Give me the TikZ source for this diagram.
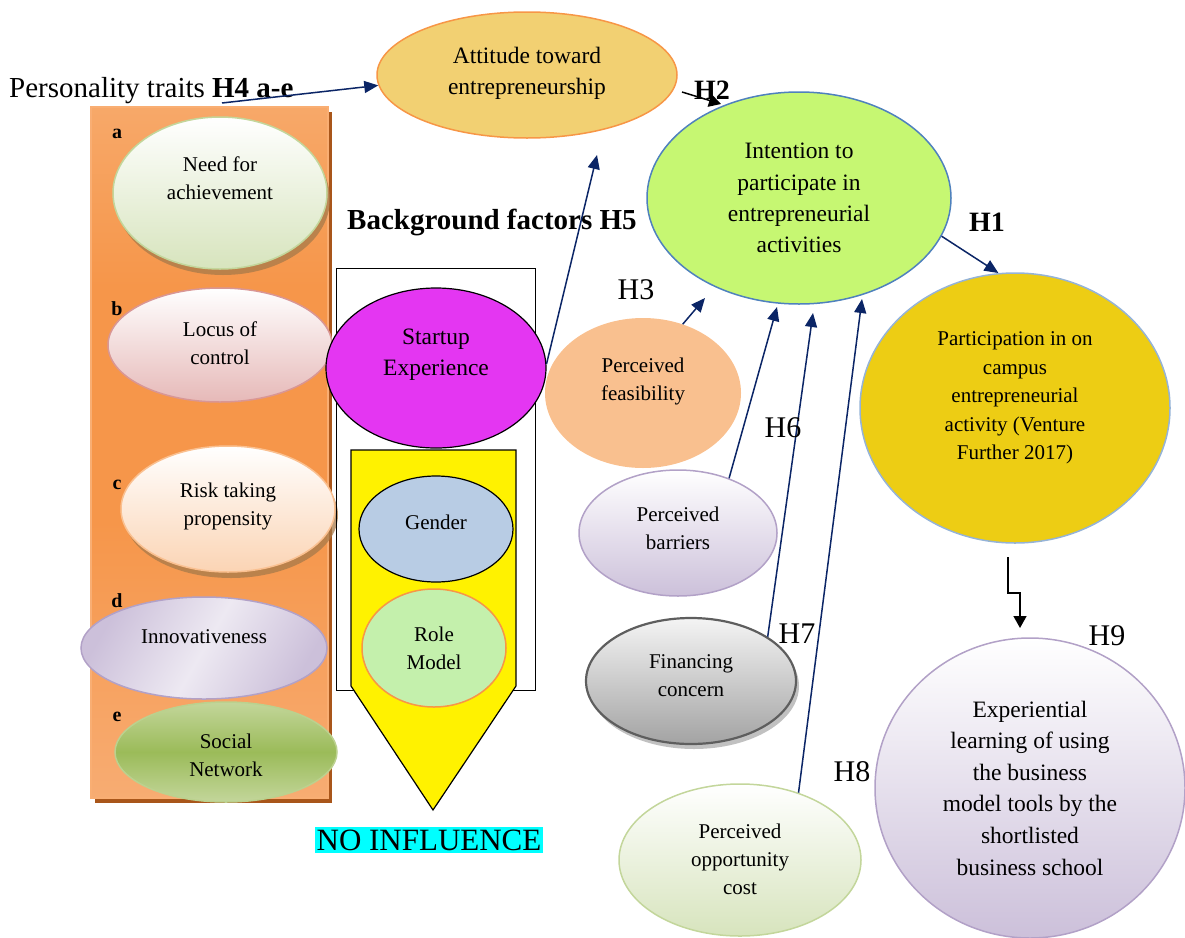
\documentclass[tikz,border=0pt]{standalone}
\usepackage{fontspec}
\setmainfont{Liberation Serif}
\usetikzlibrary{arrows.meta,shapes.geometric,shadows,calc}

\definecolor{navy}{HTML}{0B2566}
\definecolor{orTop}{HTML}{F8C498}
\definecolor{orMid}{HTML}{F6964A}
\definecolor{orBot}{HTML}{F8C097}
\definecolor{orEdge}{HTML}{F9AE73}
\definecolor{boxShade}{HTML}{A9561A}
\definecolor{attFill}{HTML}{F2D072}
\definecolor{orangeLine}{HTML}{F79646}
\definecolor{limeFill}{HTML}{C6F772}
\definecolor{blueLine}{HTML}{4F81BD}
\definecolor{goldFill}{HTML}{EDCD14}
\definecolor{paleBlue}{HTML}{95B3D7}
\definecolor{lilac}{HTML}{CCC0DA}
\definecolor{lilacLine}{HTML}{B2A1C7}
\definecolor{sage}{HTML}{D7E4BD}
\definecolor{sageLine}{HTML}{C3D69B}
\definecolor{rose}{HTML}{E6B9B8}
\definecolor{roseLine}{HTML}{D99694}
\definecolor{peach}{HTML}{FBD4B4}
\definecolor{peachLine}{HTML}{FAC090}
\definecolor{grass}{HTML}{9BBB59}
\definecolor{grassLight}{HTML}{C3D69B}
\definecolor{magentaFill}{HTML}{E436F2}
\definecolor{genderFill}{HTML}{B8CCE4}
\definecolor{roleFill}{HTML}{C4F0AC}
\definecolor{feasFill}{HTML}{F9C08F}
\definecolor{greyTop}{HTML}{F4F4F4}
\definecolor{greyBot}{HTML}{A3A3A3}
\definecolor{greyLine}{HTML}{5E5E5E}
\definecolor{brownShade}{HTML}{A77A4A}
\definecolor{aqua}{HTML}{00FFFF}

% vertical shading of the traits panel (bottom to top)
\pgfdeclareverticalshading{traitpanel}{100bp}{%
  color(0bp)=(orBot); color(22bp)=(orBot!60!orMid); color(45bp)=(orMid);
  color(62bp)=(orMid); color(85bp)=(orTop!70!orMid); color(100bp)=(orTop)}

\begin{document}
\begin{tikzpicture}[x=1pt,y=-1pt,
  lbl/.style={font=\fontsize{21}{28}\selectfont, align=center, inner sep=0pt},
  lblbig/.style={font=\fontsize{23.5}{31.3}\selectfont, align=center, inner sep=0pt},
  hyp/.style={font=\fontsize{30}{30}\selectfont, inner sep=0pt},
  hypbold/.style={font=\bfseries\fontsize{28}{28}\selectfont, inner sep=0pt},
  letter/.style={font=\bfseries\fontsize{20}{20}\selectfont, inner sep=0pt},
  oval/.style={ellipse, inner sep=0pt},
  link/.style={draw=navy, line width=1.5pt, -{Triangle[length=14pt,width=12pt]}},
  blacklink/.style={draw=black, line width=1.5pt, -{Triangle[length=12pt,width=13pt]}},
  brownshadow/.style={drop shadow={shadow xshift=3pt, shadow yshift=-6pt, fill=brownShade, opacity=.75}},
]
\useasboundingbox (0,0) rectangle (1185,937);

% ---------- personality traits panel ----------
\fill[boxShade] (95,112) rectangle (332,803);
\node[draw=orEdge, line width=1.5pt, shading=traitpanel,
      minimum width=237pt, minimum height=691pt, inner sep=0pt]
      (traits) at (209.5,452.5) {};

\node[oval, minimum width=214pt, minimum height=152pt, top color=white, bottom color=sage,
      draw=sageLine, line width=1.5pt, brownshadow] (need) at (220,193) {};
\node[oval, minimum width=224pt, minimum height=114pt, top color=white, bottom color=rose,
      draw=roseLine, line width=1.5pt] (locus) at (220,345) {};
\node[oval, minimum width=214pt, minimum height=126pt, top color=white, bottom color=peach,
      draw=peachLine, line width=1.5pt, brownshadow] (risk) at (228,509) {};
\node[oval, minimum width=246pt, minimum height=102pt, left color=lilac, right color=lilac,
      middle color=lilac!35, shading angle=60, draw=lilacLine, line width=1.5pt] (innov) at (204,648) {};
\node[oval, minimum width=222pt, minimum height=100pt, top color=grassLight, bottom color=grassLight,
      middle color=grass, draw=grassLight!80!grass, line width=1.5pt] (social) at (226,752) {};

\node[lbl] (needtxt) at (220,178) {Need for\\achievement};
\node[lbl] (locustxt) at (220,343) {Locus of\\control};
\node[lbl] (risktxt) at (228,506) {Risk taking\\propensity};
\node[lbl] (innovtxt) at (204,637) {Innovativeness};
\node[lbl] (socialtxt) at (226,755) {Social\\Network};

\node[letter] (la) at (117,134) {a};
\node[letter] (lb) at (117,309) {b};
\node[letter] (lc) at (117,485) {c};
\node[letter] (ld) at (117,601) {d};
\node[letter] (le) at (117,717) {e};

\node[anchor=west, inner sep=0pt, font=\fontsize{29}{29}\selectfont] (perstxt) at (9,91)
  {Personality traits \textbf{H4 a-e}};

% ---------- background factors ----------
\node[anchor=west, inner sep=0pt, font=\bfseries\fontsize{29}{29}\selectfont] (bgtxt) at (347,222)
  {Background factors H5};

\node[draw=black, line width=1pt, minimum width=199pt, minimum height=422pt, inner sep=0pt]
  (bgbox) at (435.5,479) {};
\draw[fill=yellow, line width=1.2pt] (351,450) -- (516,450) -- (516,686) -- (433,810) -- (351,686) -- cycle;

\node[oval, minimum width=220pt, minimum height=160pt, fill=magentaFill, draw=black, line width=1.2pt]
  (startup) at (436,368) {};
\node[lblbig] (startuptxt) at (436,355) {Startup\\Experience};
\node[oval, minimum width=154pt, minimum height=106pt, fill=genderFill, draw=black, line width=1.2pt]
  (gender) at (436,529) {};
\node[lbl] (gendertxt) at (436,522) {Gender};
\node[oval, minimum width=144pt, minimum height=118pt, fill=roleFill, draw=orangeLine, line width=1.5pt]
  (role) at (434,648) {};
\node[lbl] (roletxt) at (434,648) {Role\\Model};

\node[fill=aqua, inner xsep=2pt, inner ysep=3pt, font=\fontsize{31}{31}\selectfont] (noinf) at (429,840) {NO INFLUENCE};

% ---------- central constructs ----------
\node[oval, minimum width=300pt, minimum height=126pt, fill=attFill, draw=orangeLine, line width=1.5pt]
  (att) at (527,75) {};
\node[lblbig] (atttxt) at (527,73) {Attitude toward\\entrepreneurship};

\node[oval, minimum width=304pt, minimum height=212pt, fill=limeFill, draw=blueLine, line width=1.5pt]
  (intent) at (799,198) {};
\node[lblbig] (intenttxt) at (799,198) {Intention to\\participate in\\entrepreneurial\\activities};

\node[oval, minimum width=310pt, minimum height=270pt, fill=goldFill, draw=paleBlue, line width=1.5pt]
  (part) at (1015,408) {};
\node[font=\fontsize{21}{28.5}\selectfont, align=center, inner sep=0pt] (parttxt) at (1015,398)
  {Participation in on\\campus\\entrepreneurial\\activity (Venture\\Further 2017)};

\node[oval, minimum width=310pt, minimum height=300pt, top color=white, bottom color=lilac,
      draw=lilacLine, line width=1.5pt] (exp) at (1030,788) {};
\node[font=\fontsize{23.5}{31.6}\selectfont, align=center, inner sep=0pt] (exptxt) at (1030,788)
  {Experiential\\learning of using\\the business\\model tools by the\\shortlisted\\business school};

% ---------- perceived factors ----------
\node[oval, minimum width=196pt, minimum height=150pt, fill=feasFill] (feas) at (643,393) {};
\node[lbl] (feastxt) at (643,381) {Perceived\\feasibility};

\node[oval, minimum width=198pt, minimum height=126pt, top color=white, bottom color=lilac,
      draw=lilacLine, line width=1.5pt] (barr) at (678,533) {};
\node[lbl] (barrtxt) at (678,528) {Perceived\\barriers};

\node[oval, minimum width=210pt, minimum height=126pt, top color=greyTop, bottom color=greyBot,
      draw=greyLine, line width=2.2pt,
      drop shadow={shadow xshift=3pt, shadow yshift=-5pt, fill=black!30, opacity=.8}] (fin) at (691,681) {};
\node[lbl] (fintxt) at (691,676) {Financing\\concern};

\node[oval, minimum width=242pt, minimum height=152pt, top color=white, bottom color=sage,
      draw=sageLine, line width=1.5pt] (opp) at (740,860) {};
\node[lbl] (opptxt) at (740,859) {Perceived\\opportunity\\cost};

% ---------- connector end points ----------
\coordinate (persstart) at (222,103);
\coordinate (atttip) at (597,155);
\coordinate (h2start) at (682,92);
\coordinate (h2tip) at (721,104);
\coordinate (feastip) at (705,298);
\coordinate (barrtip) at (777,307);
\coordinate (fintip) at (813,313);
\coordinate (opptip) at (862,299);
\coordinate (zzstart) at (1008,557);
\coordinate (zztip) at (1020,628);

% ---------- connectors ----------
\draw[link] (persstart) -- (att.184);
\draw[link] (startup.2) -- (atttip);
\draw[blacklink] (h2start) -- (h2tip);
\draw[link] (intent.-15) -- (part.97);
\draw[link] (feas.60) -- (feastip);
\draw[link] (barr.47) -- (barrtip);
\draw[link] (fin.30) -- (fintip);
\draw[link] (opp.49) -- (opptip);
\draw[blacklink] (zzstart) -- (zzstart |- 0,593) -- (zztip |- 0,593) -- (zztip);

% ---------- hypothesis labels ----------
\node[hypbold] (h2) at (712,90) {H2};
\node[hypbold] (h1) at (987,222) {H1};
\node[hyp] (h3) at (636,290) {H3};
\node[hyp] (h6) at (783,428) {H6};
\node[hyp] (h7) at (797,634) {H7};
\node[hyp] (h8) at (852,772) {H8};
\node[hyp] (h9) at (1107,636) {H9};
\end{tikzpicture}
\end{document}
